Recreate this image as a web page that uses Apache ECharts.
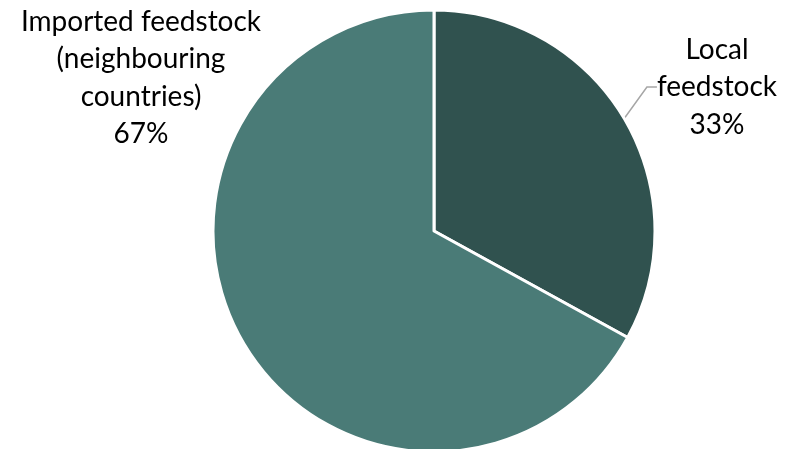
<!DOCTYPE html>
<html>
<head>
<meta charset="utf-8">
<script src="https://cdn.jsdelivr.net/npm/echarts@6/dist/echarts.min.js"></script>
<style>
  html, body { margin: 0; padding: 0; background: #fff; }
  #chart { width: 787px; height: 449px; }
</style>
</head>
<body>
<div id="chart"></div>
<script>
  // feedstock shares (%)
  var categories = ['Local\nfeedstock', 'Imported feedstock\n(neighbouring\ncountries)'];
  var shares = [33, 67];
  var colors = ['#30524F', '#4A7B77'];

  var myChart = echarts.init(document.getElementById('chart'));

  // where each label block sits (center x, center y)
  var labelSpots = [
    { x: 717, y: 87, line: true },
    { x: 141, y: 78, line: false }
  ];

  myChart.setOption({
    animation: false,
    textStyle: { fontFamily: 'Lato' },
    series: [
      {
        type: 'pie',
        center: [434, 231],
        radius: 221,
        startAngle: 90,
        clockwise: true,
        itemStyle: { borderColor: '#fff', borderWidth: 3 },
        label: {
          show: true,
          position: 'outside',
          formatter: function (p) { return p.name + '\n' + p.value + '%'; },
          color: '#000',
          fontSize: 28,
          lineHeight: 37.5,
          align: 'center',
          overflow: 'none'
        },
        labelLine: {
          show: true,
          length: 10,
          length2: 10,
          lineStyle: { color: '#A6A6A6', width: 1.5 }
        },
        labelLayout: function (params) {
          var s = labelSpots[params.dataIndex];
          return {
            x: s.x,
            y: s.y,
            align: 'center',
            verticalAlign: 'middle'
          };
        },
        data: categories.map(function (c, i) {
          return {
            name: c,
            value: shares[i],
            itemStyle: { color: colors[i] },
            labelLine: { show: labelSpots[i].line }
          };
        })
      }
    ]
  });
</script>
</body>
</html>
